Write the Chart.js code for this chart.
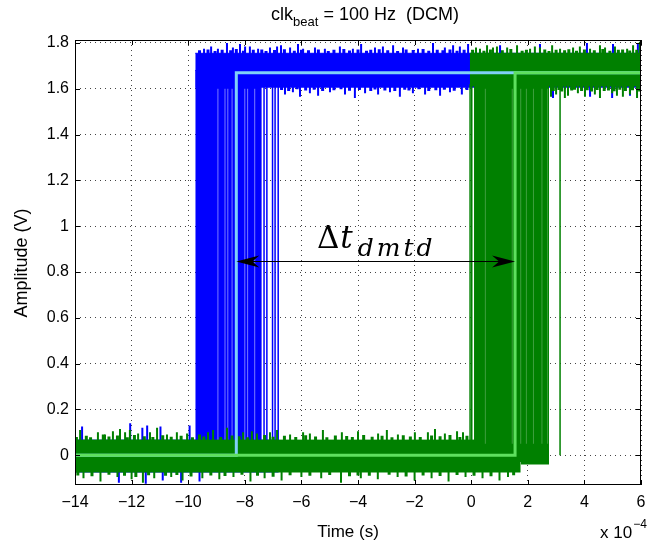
<!DOCTYPE html>
<html>
<head>
<meta charset="utf-8">
<title>DMTD edges</title>
<script src="https://cdn.jsdelivr.net/npm/chart.js@4.4.0/dist/chart.umd.min.js"></script>
<style>
  html, body { margin: 0; padding: 0; background: #fff; }
  canvas { display: block; }
</style>
</head>
<body>
<canvas id="dmtdChart" width="658" height="546"></canvas>
<script>
// time axis is in units of 1e-4 s
var timeTicks = [-14, -12, -10, -8, -6, -4, -2, 0, 2, 4, 6];
var ampTicks = [0, 0.2, 0.4, 0.6, 0.8, 1, 1.2, 1.4, 1.6, 1.8];
var timeRange = [-14, 6];
var ampRange = [-0.13, 1.813];

// ideal square waves
var idealBlueT = [-14, -8.3, -8.3, 6];
var idealBlueV = [0, 0, 1.67, 1.67];
var idealGreenT = [-14, 1.55, 1.55, 6];
var idealGreenV = [0, 0, 1.67, 1.67];

// noise bands of the measured traces: [t start, t end, v bottom, v top]
var blueLow = [-14, -6.8, -0.075, 0.066];
var blueHigh = [-9.75, 6, 1.605, 1.755];
var blueEdges = [-9.75, -7.4, -0.03, 1.68];
var greenLow = [-14, 1.75, -0.075, 0.066];
var greenLowTail = [1.75, 2.75, -0.04, 0.066];
var greenHigh = [-0.05, 6, 1.61, 1.755];
var greenEdges = [0.1, 2.75, -0.03, 1.68];

// single transitions outside the dense bundles
var blueStrayT = [-7.32, -7.22, -7.02, -6.93, -6.82];
var greenStrayT = [-0.04, 0.02, 3.14];
// lighter (overlapping) transitions inside the bundles
var blueFaintT = [-8.95, -8.7, -8.6, -8.45, -8.0, -7.9, -7.65];
var greenFaintT = [0.5, 1.45, 1.75, 1.95, 2.2, 2.5, 2.7];

// noise peaks sticking out of the bands (big ones, then small ones)
var greenLowUpT = [-13.82, -13.19, -12.94, -12.66, -12.41, -12.23, -12.06, -11.77, -11.35, -11.10, -10.75, -10.40, -10.04, -9.30, -9.12, -8.63, -8.06, -7.75, -7.57, -7.11, -6.86, -6.40, -5.94, -5.70, -5.24, -4.57, -4.00, -3.29, -2.98, -2.59, -1.99, -1.53, -1.28, -0.93, -0.50, -0.29];
var greenLowUpV = [0.11, 0.1, 0.09, 0.105, 0.115, 0.1, 0.11, 0.095, 0.1, 0.12, 0.09, 0.1, 0.095, 0.1, 0.11, 0.12, 0.1, 0.105, 0.095, 0.1, 0.11, 0.09, 0.1, 0.095, 0.11, 0.1, 0.105, 0.095, 0.11, 0.09, 0.1, 0.1, 0.115, 0.095, 0.105, 0.1];
var greenLowUp2T = [-13.95, -13.6, -13.45, -13.0, -12.8, -12.5, -12.15, -11.9, -11.55, -11.25, -10.9, -10.6, -10.25, -9.85, -9.6, -9.45, -8.85, -8.45, -8.2, -7.9, -7.3, -7.0, -6.6, -6.2, -5.85, -5.5, -5.1, -4.8, -4.4, -4.2, -3.8, -3.5, -3.15, -2.8, -2.4, -2.15, -1.8, -1.4, -1.1, -0.75, -0.4, -0.15];
var greenLowUp2V = [0.08, 0.085, 0.078, 0.09, 0.082, 0.086, 0.079, 0.088, 0.083, 0.08, 0.087, 0.081, 0.085, 0.078, 0.09, 0.082, 0.08, 0.086, 0.083, 0.079, 0.088, 0.081, 0.085, 0.08, 0.087, 0.082, 0.079, 0.086, 0.084, 0.08, 0.088, 0.081, 0.085, 0.079, 0.087, 0.082, 0.08, 0.086, 0.083, 0.088, 0.08, 0.085];
var greenLowDownT = [-13.7, -13.1, -12.5, -12.0, -11.6, -11.2, -10.6, -10.2, -9.5, -8.9, -8.4, -7.8, -7.3, -6.7, -6.0, -5.3, -4.6, -3.9, -3.3, -2.6, -2.0, -1.4, -0.8, -0.2, 0.4, 1.0, 1.3];
var greenLowDownV = [-0.1, -0.115, -0.095, -0.105, -0.12, -0.1, -0.095, -0.11, -0.1, -0.105, -0.095, -0.115, -0.1, -0.11, -0.095, -0.1, -0.12, -0.1, -0.105, -0.095, -0.11, -0.1, -0.115, -0.095, -0.1, -0.11, -0.095];
var greenLowDown2T = [-13.9, -13.4, -12.8, -12.25, -11.85, -11.4, -10.8, -10.4, -9.9, -9.2, -8.7, -8.1, -7.55, -7.0, -6.4, -5.7, -5.0, -4.3, -4.0, -3.6, -2.9, -2.3, -1.7, -1.1, -0.5, 0.1, 0.7, 1.5];
var greenLowDown2V = [-0.088, -0.092, -0.085, -0.09, -0.095, -0.087, -0.09, -0.086, -0.093, -0.088, -0.091, -0.085, -0.09, -0.094, -0.087, -0.09, -0.086, -0.092, -0.088, -0.09, -0.085, -0.093, -0.088, -0.091, -0.086, -0.09, -0.092, -0.087];
var blueLowUpT = [-13.75, -12.05, -11.62, -11.45, -10.98, -9.95];
var blueLowUpV = [0.125, 0.14, 0.12, 0.13, 0.125, 0.13];
var blueLowDownT = [-12.45, -11.5, -10.9, -10.25, -9.6];
var blueLowDownV = [-0.12, -0.125, -0.11, -0.12, -0.115];
var blueHighUpT = [-9.44, -9.19, -8.95, -8.63, -8.42, -8.17, -7.99, -7.82, -7.53, -7.11, -6.86, -6.72, -6.40, -6.12, -5.94, -5.52, -5.17, -4.64, -4.18, -3.89, -3.40, -3.12, -2.76, -2.41, -1.88, -1.35, -0.93, -0.64, -0.40, -0.11, 1.02, 2.43, 4.09, 5.01, 5.89];
var blueHighUpV = [1.775, 1.785, 1.775, 1.8, 1.78, 1.795, 1.785, 1.785, 1.775, 1.78, 1.785, 1.79, 1.78, 1.795, 1.775, 1.78, 1.775, 1.785, 1.775, 1.795, 1.78, 1.785, 1.79, 1.78, 1.775, 1.8, 1.78, 1.79, 1.785, 1.795, 1.79, 1.795, 1.8, 1.795, 1.8];
var blueHighUp2T = [-9.6, -9.3, -9.05, -8.8, -8.5, -8.3, -8.05, -7.7, -7.4, -7.25, -6.95, -6.6, -6.25, -6.0, -5.75, -5.4, -5.05, -4.85, -4.5, -4.3, -4.0, -3.7, -3.55, -3.25, -2.95, -2.6, -2.3, -2.05, -1.7, -1.5, -1.2, -1.0, -0.75, -0.5, -0.25];
var blueHighUp2V = [1.768, 1.772, 1.765, 1.77, 1.768, 1.774, 1.766, 1.77, 1.772, 1.765, 1.769, 1.773, 1.766, 1.77, 1.768, 1.772, 1.765, 1.77, 1.774, 1.767, 1.771, 1.766, 1.77, 1.773, 1.768, 1.765, 1.771, 1.769, 1.774, 1.766, 1.77, 1.768, 1.772, 1.766, 1.77];
var greenHighUpT = [0.17, 0.31, 0.56, 0.77, 0.91, 1.27, 1.62, 2.08, 2.25, 2.43, 2.86, 3.14, 3.60, 3.84, 4.20, 4.55, 4.73, 5.08, 5.51, 5.72, 5.96];
var greenHighUpV = [1.78, 1.775, 1.79, 1.78, 1.785, 1.78, 1.79, 1.775, 1.785, 1.78, 1.79, 1.775, 1.78, 1.785, 1.775, 1.79, 1.78, 1.785, 1.775, 1.79, 1.805];
var greenHighUp2T = [0.05, 0.45, 0.68, 1.1, 1.4, 1.8, 1.95, 2.6, 2.75, 3.0, 3.3, 3.45, 3.72, 4.0, 4.35, 4.65, 4.9, 5.2, 5.35, 5.6, 5.85];
var greenHighUp2V = [1.77, 1.766, 1.772, 1.768, 1.774, 1.766, 1.77, 1.772, 1.765, 1.77, 1.768, 1.773, 1.766, 1.771, 1.768, 1.774, 1.766, 1.77, 1.772, 1.767, 1.77];
var blueInnerT = [-6.58, -6.30, -6.05, -5.70, -5.41, -4.99, -4.46, -4.11, -3.75, -3.29, -2.87, -2.52, -2.06, -1.63, -1.10, -0.75, -0.33, 2.89, 4.20, 4.98, 5.61];
var blueInnerV = [1.575, 1.585, 1.565, 1.58, 1.57, 1.585, 1.575, 1.56, 1.58, 1.575, 1.585, 1.565, 1.58, 1.575, 1.57, 1.585, 1.575, 1.56, 1.565, 1.56, 1.57];
var blueInner2T = [-6.7, -6.45, -6.15, -5.85, -5.55, -5.25, -4.85, -4.6, -4.3, -3.95, -3.55, -3.4, -3.05, -2.7, -2.35, -2.2, -1.85, -1.5, -1.25, -0.95, -0.6, -0.15];
var blueInner2V = [1.595, 1.59, 1.598, 1.592, 1.596, 1.59, 1.594, 1.598, 1.591, 1.595, 1.59, 1.597, 1.593, 1.59, 1.596, 1.592, 1.598, 1.59, 1.594, 1.596, 1.591, 1.595];
var greenInnerT = [2.82, 3.00, 3.31, 3.42, 3.77, 4.02, 4.37, 4.55, 4.98, 5.15, 5.36, 5.61, 5.86];
var greenInnerV = [1.565, 1.575, 1.56, 1.57, 1.58, 1.565, 1.575, 1.56, 1.58, 1.57, 1.565, 1.575, 1.56];
var greenInner2T = [2.9, 3.1, 3.2, 3.55, 3.65, 3.9, 4.1, 4.25, 4.45, 4.7, 4.85, 5.05, 5.25, 5.45, 5.7, 5.95];
var greenInner2V = [1.59, 1.595, 1.588, 1.592, 1.596, 1.59, 1.594, 1.588, 1.595, 1.59, 1.593, 1.589, 1.596, 1.59, 1.594, 1.588];

// delta-t annotation
var arrowT = [-8.3, 1.55];
var arrowV = 0.85;

var BLUE = '#0000ff';
var GREEN = '#008000';
var FONT = "'Liberation Sans', Arial, Helvetica, sans-serif";
var SERIF = "'DejaVu Serif', 'Liberation Serif', serif";

function xy(ts, vs) {
  var pts = [];
  for (var i = 0; i < ts.length; i++) pts.push({x: ts[i], y: vs[i]});
  return pts;
}

// a band is a flat top filled down to its bottom value
function bandSet(b, color) {
  return {
    data: [{x: b[0], y: b[3]}, {x: b[1], y: b[3]}],
    borderColor: color, backgroundColor: color, borderWidth: 1,
    fill: {value: b[2]}, pointRadius: 0
  };
}

// vertical segments from a base value up (or down) to each tip
function peakSet(ts, vs, base, color, width) {
  var pts = [];
  var n = Math.min(ts.length, vs.length);
  for (var i = 0; i < n; i++) {
    pts.push({x: ts[i], y: base}, {x: ts[i], y: vs[i]}, {x: ts[i], y: null});
  }
  return {data: pts, borderColor: color, borderWidth: width, fill: false, pointRadius: 0, spanGaps: false};
}

function strokeSet(ts, lo, hi, color, width) {
  var vs = ts.map(function() { return hi; });
  return peakSet(ts, vs, lo, color, width);
}

// back to front
var datasets = [
  bandSet(blueLow, BLUE),
  bandSet(blueHigh, BLUE),
  bandSet(blueEdges, BLUE),
  strokeSet(blueStrayT, 0.0, 1.62, BLUE, 1.5),
  strokeSet(blueFaintT, 0.05, 1.6, '#7a7aff', 1),
  peakSet(blueLowUpT, blueLowUpV, 0.05, BLUE, 2),
  peakSet(blueLowDownT, blueLowDownV, -0.06, BLUE, 2),
  peakSet(blueHighUpT, blueHighUpV, 1.74, BLUE, 2),
  peakSet(blueHighUp2T, blueHighUp2V, 1.74, BLUE, 3),
  peakSet(blueInnerT, blueInnerV, 1.62, BLUE, 2),
  peakSet(blueInner2T, blueInner2V, 1.62, BLUE, 3),
  bandSet(greenLow, GREEN),
  bandSet(greenLowTail, GREEN),
  bandSet(greenHigh, GREEN),
  bandSet(greenEdges, GREEN),
  strokeSet(greenStrayT, 0.0, 1.62, GREEN, 1.5),
  strokeSet(greenFaintT, 0.05, 1.6, '#3f9f3f', 1),
  peakSet(greenLowUpT, greenLowUpV, 0.05, GREEN, 2),
  peakSet(greenLowUp2T, greenLowUp2V, 0.05, GREEN, 3),
  peakSet(greenLowDownT, greenLowDownV, -0.06, GREEN, 2),
  peakSet(greenLowDown2T, greenLowDown2V, -0.06, GREEN, 3),
  peakSet(greenHighUpT, greenHighUpV, 1.74, GREEN, 2),
  peakSet(greenHighUp2T, greenHighUp2V, 1.74, GREEN, 3),
  peakSet(greenInnerT, greenInnerV, 1.62, GREEN, 2),
  peakSet(greenInner2T, greenInner2V, 1.62, GREEN, 3),
  {data: xy(idealBlueT, idealBlueV), borderColor: '#80d0f8', borderWidth: 3, fill: false, pointRadius: 0},
  {data: xy(idealGreenT, idealGreenV), borderColor: '#5ee05e', borderWidth: 3, fill: false, pointRadius: 0}
];
datasets.forEach(function(d, i) { d.order = datasets.length - i; });

function minus(v) {
  return v < 0 ? '\u2212' + Math.abs(v) : String(v);
}

// box, inner tick marks, arrow and the text around the axes
var matlabLook = {
  id: 'matlabLook',
  afterDatasetsDraw: function(chart) {
    var ctx = chart.ctx, a = chart.chartArea;
    var xs = chart.scales.x, ys = chart.scales.y;
    ctx.save();
    ctx.strokeStyle = '#000';
    ctx.lineWidth = 1;
    ctx.beginPath();
    timeTicks.forEach(function(t) {
      var px = Math.round(xs.getPixelForValue(t)) + 0.5;
      ctx.moveTo(px, a.bottom); ctx.lineTo(px, a.bottom - 5);
      ctx.moveTo(px, a.top); ctx.lineTo(px, a.top + 5);
    });
    ampTicks.forEach(function(v) {
      var py = Math.round(ys.getPixelForValue(v)) + 0.5;
      ctx.moveTo(a.left, py); ctx.lineTo(a.left + 5, py);
      ctx.moveTo(a.right, py); ctx.lineTo(a.right - 5, py);
    });
    ctx.stroke();
    ctx.strokeRect(a.left + 0.5, a.top + 0.5, a.right - a.left - 1, a.bottom - a.top - 1);

    // double arrow
    var x0 = xs.getPixelForValue(arrowT[0]), x1 = xs.getPixelForValue(arrowT[1]);
    var y = Math.round(ys.getPixelForValue(arrowV)) + 0.5;
    ctx.beginPath();
    ctx.moveTo(x0 + 10, y); ctx.lineTo(x1 - 10, y);
    ctx.stroke();
    ctx.fillStyle = '#000';
    [[x0, 1], [x1, -1]].forEach(function(h) {
      ctx.beginPath();
      ctx.moveTo(h[0], y);
      ctx.lineTo(h[0] + h[1] * 23, y - 6);
      ctx.lineTo(h[0] + h[1] * 16, y);
      ctx.lineTo(h[0] + h[1] * 23, y + 6);
      ctx.closePath();
      ctx.fill();
    });

    // \Delta t_{dmtd}
    var lx = xs.getPixelForValue(-5.45), ly = ys.getPixelForValue(0.905);
    ctx.textBaseline = 'alphabetic';
    ctx.textAlign = 'left';
    ctx.font = '31px ' + SERIF;
    ctx.fillText('\u0394', lx, ly);
    var w = ctx.measureText('\u0394').width;
    ctx.font = 'italic 31px ' + SERIF;
    ctx.fillText('t', lx + w + 1, ly);
    var wt = ctx.measureText('t').width;
    ctx.font = 'italic 25px ' + SERIF;
    ctx.letterSpacing = '3px';
    ctx.fillText('dmtd', lx + w + wt + 6, ly + 8);
    ctx.letterSpacing = '0px';
    ctx.restore();
  },
  afterDraw: function(chart) {
    var ctx = chart.ctx;
    ctx.save();
    ctx.fillStyle = '#000';
    ctx.textBaseline = 'alphabetic';
    ctx.textAlign = 'left';

    // title with subscript
    var big = '18px ' + FONT, small = '13px ' + FONT, label = '17px ' + FONT;
    var rest = ' = 100 Hz  (DCM)';
    ctx.font = big;
    var w1 = ctx.measureText('clk').width, w3 = ctx.measureText(rest).width;
    ctx.font = small;
    var w2 = ctx.measureText('beat').width;
    var sx = 365 - (w1 + w2 + w3) / 2;
    ctx.font = big;
    ctx.fillText('clk', sx, 20);
    ctx.font = small;
    ctx.fillText('beat', sx + w1, 26);
    ctx.font = big;
    ctx.fillText(rest, sx + w1 + w2, 20);

    // x label and exponent
    ctx.font = label;
    ctx.textAlign = 'center';
    ctx.fillText('Time (s)', 348, 537);
    ctx.textAlign = 'left';
    ctx.fillText('x 10', 600, 538);
    var wx = ctx.measureText('x 10').width;
    ctx.font = '12px ' + FONT;
    ctx.fillText('\u22124', 600 + wx + 1, 528);

    // y label
    ctx.font = '18px ' + FONT;
    ctx.translate(27, 263);
    ctx.rotate(-Math.PI / 2);
    ctx.textAlign = 'center';
    ctx.fillText('Amplitude (V)', 0, 0);
    ctx.restore();
  }
};

var ctx = document.getElementById('dmtdChart').getContext('2d');
var chart = new Chart(ctx, {
  type: 'line',
  data: {datasets: datasets},
  options: {
    responsive: false,
    animation: false,
    events: [],
    layout: {padding: {top: 40, right: 17, left: 0, bottom: 0}},
    plugins: {legend: {display: false}, title: {display: false}, tooltip: {enabled: false}},
    scales: {
      x: {
        type: 'linear', min: timeRange[0], max: timeRange[1],
        afterBuildTicks: function(s) { s.ticks = timeTicks.map(function(v) { return {value: v}; }); },
        afterFit: function(s) { s.height = 61; },
        ticks: {
          color: '#000', padding: 8, maxRotation: 0, autoSkip: false,
          font: {family: FONT, size: 16},
          callback: function(v) { return minus(v); }
        },
        grid: {color: '#444', lineWidth: 1, drawTicks: false},
        border: {display: false, dash: [1, 4]}
      },
      y: {
        type: 'linear', min: ampRange[0], max: ampRange[1],
        afterBuildTicks: function(s) { s.ticks = ampTicks.map(function(v) { return {value: v}; }); },
        afterFit: function(s) { s.width = 75; },
        ticks: {
          color: '#000', padding: 6, autoSkip: false,
          font: {family: FONT, size: 16},
          callback: function(v) { return String(Math.round(v * 10) / 10); }
        },
        grid: {color: '#444', lineWidth: 1, drawTicks: false},
        border: {display: false, dash: [1, 4]}
      }
    }
  },
  plugins: [matlabLook]
});
</script>
</body>
</html>
